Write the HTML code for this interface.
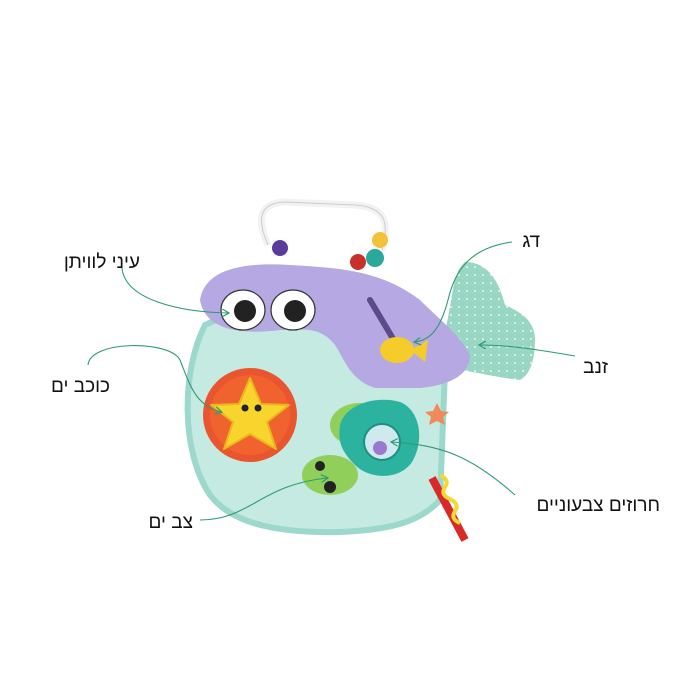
<!DOCTYPE html>
<html><head><meta charset="utf-8"><style>
html,body{margin:0;padding:0;background:#fff;}
svg{display:block}
text{font-family:"Liberation Sans",sans-serif;font-size:19px;fill:#111;}
</style></head><body>
<svg width="700" height="700" viewBox="0 0 700 700" xmlns="http://www.w3.org/2000/svg">
<defs>
<marker id="a" markerWidth="8" markerHeight="8" refX="6" refY="4" orient="auto" markerUnits="userSpaceOnUse">
<path d="M0,0 L7,4 L0,8" fill="none" stroke="#2e9a72" stroke-width="1.2"/></marker>
<pattern id="dots" width="8" height="8" patternUnits="userSpaceOnUse"><rect width="8" height="8" fill="#9ad6c4"/><circle cx="3" cy="3" r="1" fill="#e8f7f2"/></pattern>
</defs>
<path d="M268,245 C255,215 262,203 285,202 L355,205 C385,207 390,222 382,250" fill="none" stroke="#f2f2f2" stroke-width="7"/>
<path d="M268,245 C255,215 262,203 285,202 L355,205 C385,207 390,222 382,250" fill="none" stroke="#ccc" stroke-width="1"/>
<circle cx="280" cy="248" r="8" fill="#5a3a9a"/>
<circle cx="380" cy="240" r="8" fill="#f2c23a"/>
<circle cx="375" cy="258" r="9" fill="#2aa89a"/>
<circle cx="358" cy="262" r="8" fill="#c8302a"/>
<path d="M440,350 C455,300 450,275 465,262 C490,262 500,285 505,305 C520,312 535,320 535,340 C535,360 530,375 520,380 C500,378 475,372 450,368 Z" fill="url(#dots)"/>
<path d="M205,325 C182,370 180,450 210,495 C235,528 290,533 340,532 C390,530 420,522 440,500 L445,370 C440,330 420,320 380,320 L220,318 Z" fill="#c4eae1" stroke="#9cd8cb" stroke-width="6"/>
<path d="M200,300 C205,270 240,262 290,265 C340,268 380,270 420,300 C440,320 460,335 470,355 C470,375 450,385 420,388 L375,388 C350,380 345,360 335,345 C320,325 300,330 280,330 C240,335 205,330 200,300 Z" fill="#b6a8e2"/>
<path d="M370,300 L395,342" stroke="#5b4a8c" stroke-width="6" stroke-linecap="round"/>
<ellipse cx="243" cy="310" rx="22" ry="20" fill="#fff" stroke="#333" stroke-width="1.2"/>
<ellipse cx="293" cy="310" rx="22" ry="20" fill="#fff" stroke="#333" stroke-width="1.2"/>
<circle cx="245" cy="311" r="11" fill="#222"/>
<circle cx="295" cy="311" r="11" fill="#222"/>
<ellipse cx="397" cy="350" rx="17" ry="13" fill="#f5cc2a"/>
<path d="M410,350 L428,340 L425,362 Z" fill="#f5cc2a"/>
<circle cx="250" cy="415" r="47" fill="#e8552e"/>
<circle cx="250" cy="415" r="40" fill="#f0632f"/>
<path d="M250,378 L261,404 L289,405 L267,422 L276,449 L250,434 L224,449 L233,422 L211,405 L239,404 Z" fill="#f7d52d" stroke="#e8b81c" stroke-width="2" stroke-linejoin="round"/>
<circle cx="245" cy="408" r="3.5" fill="#223"/><circle cx="258" cy="408" r="3.5" fill="#223"/>
<ellipse cx="330" cy="475" rx="28" ry="20" fill="#8fcf5a"/>
<circle cx="320" cy="466" r="5" fill="#222"/><circle cx="330" cy="487" r="6" fill="#222"/>
<ellipse cx="360" cy="425" rx="30" ry="22" fill="#8fcf5a"/>
<path d="M340,425 C345,405 375,395 400,402 C420,410 425,440 412,462 C400,480 370,480 355,465 C340,450 338,440 340,425 Z" fill="#2bb3a0"/>
<circle cx="382" cy="442" r="18" fill="#cfe9ee" stroke="#1e8f80" stroke-width="2"/>
<circle cx="380" cy="448" r="7" fill="#9a7ad0"/>
<path d="M437,403 l4,8 l8,1 l-6,5 l2,8 l-8,-4 l-8,4 l2,-8 l-6,-5 l8,-1z" fill="#f08a5a"/>
<path d="M432,478 L465,540" stroke="#d92a2a" stroke-width="8"/>
<path d="M440,475 q10,5 5,12 q-5,8 5,12 q10,5 5,12 q-5,8 5,12" fill="none" stroke="#f1d832" stroke-width="4"/>
<g fill="none" stroke="#2e9a72" stroke-width="1.1">
<path d="M122,268 C125,300 180,312 228,313" marker-end="url(#a)"/>
<path d="M88,365 C90,340 170,340 180,360 C190,385 195,405 221,412" marker-end="url(#a)"/>
<path d="M512,242 C470,248 455,270 448,300 C440,330 430,340 415,342" marker-end="url(#a)"/>
<path d="M575,356 C540,350 510,345 480,345" marker-end="url(#a)"/>
<path d="M515,495 C470,455 440,445 392,442" marker-end="url(#a)"/>
<path d="M200,520 C250,520 260,485 327,478" marker-end="url(#a)"/>
</g>
<text x="140" y="268" text-anchor="end">עיני לוויתן</text>
<text x="110" y="392" text-anchor="end">כוכב ים</text>
<text x="540" y="247" text-anchor="end">דג</text>
<text x="608" y="373" text-anchor="end">זנב</text>
<text x="660" y="511" text-anchor="end">חרוזים צבעוניים</text>
<text x="193" y="528" text-anchor="end">צב ים</text>
</svg>
</body></html>
